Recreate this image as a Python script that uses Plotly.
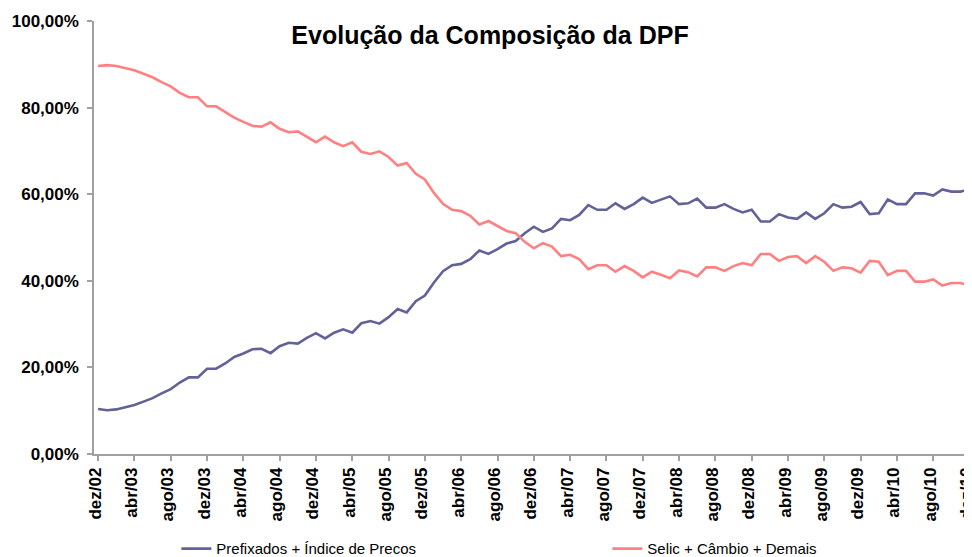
import plotly.graph_objects as go

month_names = ["jan", "fev", "mar", "abr", "mai", "jun", "jul", "ago", "set", "out", "nov", "dez"]
# monthly categories from dez/02 to dez/10
categories = ["dez/02"] + [f"{m}/{y:02d}" for y in range(3, 11) for m in month_names]

prefixados = [
    10.4, 10.1, 10.3, 10.8, 11.3, 12.1, 12.9, 14.0, 15.0, 16.5, 17.7, 17.7, 19.7, 19.7, 20.9, 22.4,
    23.2, 24.2, 24.3, 23.3, 24.9, 25.7, 25.5, 26.8, 27.9, 26.7, 28.0, 28.8, 28.0, 30.2, 30.7, 30.1,
    31.6, 33.5, 32.7, 35.3, 36.6, 39.6, 42.2, 43.6, 43.9, 45.0, 47.0, 46.2, 47.3, 48.6, 49.2, 51.0,
    52.5, 51.3, 52.1, 54.3, 54.0, 55.2, 57.5, 56.4, 56.4, 57.9, 56.6, 57.7, 59.2, 58.0, 58.7, 59.5,
    57.7, 57.9, 59.0, 56.9, 56.9, 57.7, 56.6, 55.8, 56.4, 53.7, 53.7, 55.4, 54.6, 54.3, 55.8, 54.3,
    55.6, 57.7, 56.9, 57.1, 58.2, 55.4, 55.6, 58.8, 57.7, 57.7, 60.2, 60.2, 59.7, 61.1, 60.6, 60.6,
    61.1,
]

selic = [
    89.6, 89.8, 89.6, 89.1, 88.6, 87.8, 87.0, 85.9, 84.9, 83.4, 82.4, 82.4, 80.3, 80.3, 79.0, 77.7,
    76.7, 75.8, 75.6, 76.6, 75.1, 74.3, 74.5, 73.2, 72.0, 73.3, 72.0, 71.1, 72.0, 69.8, 69.3, 69.9,
    68.6, 66.6, 67.2, 64.7, 63.4, 60.3, 57.8, 56.4, 56.1, 55.0, 53.0, 53.8, 52.7, 51.5, 51.0, 49.0,
    47.5, 48.7, 47.9, 45.7, 46.0, 45.0, 42.7, 43.6, 43.6, 42.1, 43.4, 42.3, 40.8, 42.1, 41.4, 40.6,
    42.4, 42.0, 41.0, 43.1, 43.1, 42.3, 43.4, 44.1, 43.6, 46.2, 46.2, 44.6, 45.5, 45.7, 44.1, 45.7,
    44.4, 42.3, 43.1, 42.9, 41.9, 44.6, 44.4, 41.3, 42.3, 42.3, 39.8, 39.8, 40.3, 38.9, 39.5, 39.5,
    38.9,
]

tick_labels = categories[::4]
y_ticks = [0, 20, 40, 60, 80, 100]

FONT = "Liberation Sans, Arial, sans-serif"

fig = go.Figure()
fig.add_trace(go.Scatter(
    x=categories, y=prefixados, mode="lines", name="Prefixados + Índice de Precos",
    line=dict(color="#626299", width=2.6), legend="legend", cliponaxis=False, showlegend=True,
))
fig.add_trace(go.Scatter(
    x=categories, y=selic, mode="lines", name="Selic + Câmbio + Demais",
    line=dict(color="#FF8080", width=2.6), legend="legend2", cliponaxis=False, showlegend=True,
))

# the page body adds an 8px offset, so the figure is sized to fit the 972x557 window
fig.update_layout(
    width=964, height=549,
    margin=dict(l=86, r=2, t=13, b=103, autoexpand=False),
    paper_bgcolor="white", plot_bgcolor="white",
    showlegend=True,
    separators=",.",
    font=dict(family=FONT, color="black"),
    title=dict(
        text="<b>Evolução da Composição da DPF</b>",
        x=0.5, xref="container", xanchor="center",
        y=0.951, yref="container", yanchor="middle",
        font=dict(family=FONT, size=25, color="black"),
    ),
    xaxis=dict(
        type="category", range=[-0.45, 96.05], automargin=False,
        tickmode="array", tickvals=tick_labels, ticktext=[f"<b>{t}</b>" for t in tick_labels],
        tickangle=-90, tickfont=dict(family=FONT, size=17, color="black"),
        ticklabelshift=-3,
        showline=True, linecolor="#A0A0A0", linewidth=1.5,
        ticks="outside", ticklen=5, tickcolor="#A0A0A0", tickwidth=1.5,
        showgrid=False, zeroline=False,
    ),
    yaxis=dict(
        range=[0, 100], tickmode="array", tickvals=y_ticks, automargin=False,
        ticktext=[f"<b>{v},00%</b>" for v in y_ticks],
        tickfont=dict(family=FONT, size=17, color="black"),
        ticklabelstandoff=5,
        showline=True, linecolor="#A0A0A0", linewidth=1.5,
        ticks="outside", ticklen=5, tickcolor="#A0A0A0", tickwidth=1.5,
        showgrid=False, zeroline=False,
    ),
    legend=dict(
        x=0.094, xanchor="left", y=-0.219, yanchor="middle",
        orientation="h", font=dict(family=FONT, size=15, color="black"),
        bgcolor="rgba(0,0,0,0)",
    ),
    legend2=dict(
        x=0.586, xanchor="left", y=-0.219, yanchor="middle",
        orientation="h", font=dict(family=FONT, size=15, color="black"),
        bgcolor="rgba(0,0,0,0)",
    ),
)

fig.write_html("out.html")
